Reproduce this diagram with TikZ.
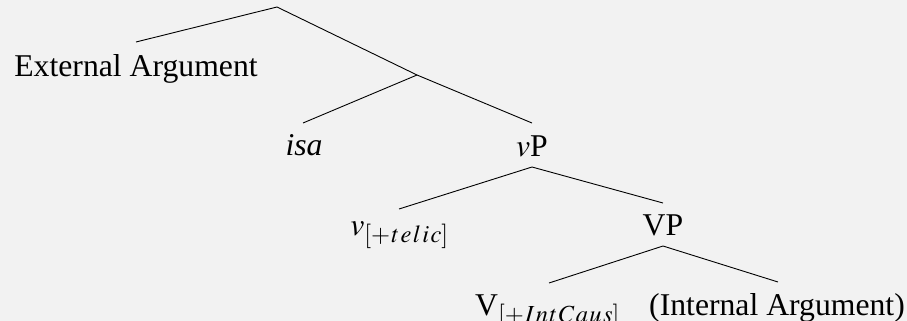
\documentclass[tikz,border=0pt]{standalone}
\usepackage{mathptmx}
\usepackage{fontspec}
\setmainfont{Liberation Serif}
\DeclareMathSizes{31.7}{31.7}{24.5}{18}
\definecolor{bg}{HTML}{F2F2F2}
\newcommand{\sk}{\mkern1mu}
\begin{document}
\begin{tikzpicture}[x=1pt,y=-1pt,
  branch/.style={line width=0.9pt, black},
  lab/.style={anchor=base, inner sep=0pt, font=\fontsize{31.7}{38}\selectfont}]
\fill[bg] (0,0) rectangle (907,321);
\useasboundingbox (0,0) rectangle (907,321);
% junction points
\coordinate (root) at (277,7);
\coordinate (mid) at (417,75);
\coordinate (eaT) at (136,42);
\coordinate (isaT) at (303,123);
\coordinate (vPT) at (532,123);
\coordinate (vPB) at (532,167);
\coordinate (vtT) at (399,209);
\coordinate (VPT) at (663,203);
\coordinate (VPB) at (663,246);
\coordinate (VIT) at (549,283);
\coordinate (IAT) at (778,282);
% labels
\node[lab] (ea) at (136,77) {External Argument};
\node[lab] (isa) at (304,155) {\textit{isa}};
\node[lab] (vP) at (532,156) {$v$P};
\node[lab] (vt) at (399.5,235) {$v_{[+\sk t\sk e\sk l\sk i\sk c]}$};
\node[lab] (VP) at (663,235) {VP};
\node[lab] (VI) at (547.5,315) {V$_{[+\sk I\sk n\sk t\sk C\sk a\sk u\sk s]}$};
\node[lab] (IA) at (777,315) {(Internal Argument)};
% branches
\draw[branch] (eaT) -- (root) -- (mid) -- (vPT);
\draw[branch] (mid) -- (isaT);
\draw[branch] (vtT) -- (vPB) -- (VPT);
\draw[branch] (VIT) -- (VPB) -- (IAT);
\end{tikzpicture}
\end{document}
